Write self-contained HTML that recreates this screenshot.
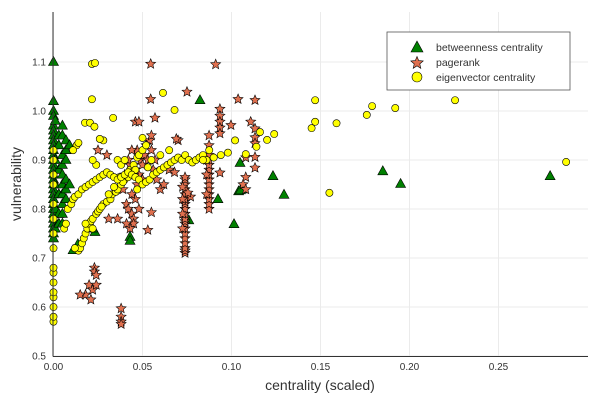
<!DOCTYPE html>
<html><head><meta charset="utf-8"><style>
body{margin:0;background:#fff;}
svg{display:block;font-family:"Liberation Sans",sans-serif;}
</style></head><body>
<svg id="chart" width="600" height="400">
<g id="grid"></g>
<g id="marks"></g>
<g id="axes"></g>
<text x="320" y="390" font-size="14" text-anchor="middle" fill="#333">centrality (scaled)</text>
<text transform="translate(21,184) rotate(-90)" font-size="14" text-anchor="middle" fill="#333">vulnerability</text>
<g>
<rect x="387" y="32" width="183" height="58" fill="#fff" stroke="#555" stroke-width="0.8"/>
<g><polygon points="417,41 423,52 411,52" fill="#008000" stroke="#000" stroke-width="0.6"/><text x="436" y="51" font-size="10.5" fill="#333">betweenness centrality</text></g>
<g><polygon id="lgstar" fill="#e0704f" stroke="#000" stroke-width="0.6"/><text x="436" y="66" font-size="10.5" fill="#333">pagerank</text></g>
<g><circle cx="417" cy="77" r="5" fill="#ffff00" stroke="#000" stroke-width="0.6"/><text x="436" y="81" font-size="10.5" fill="#333">eigenvector centrality</text></g>
</g>
</svg>
<script>
const xTicks=[0,0.05,0.10,0.15,0.20,0.25];
const xTickLabels=["0.00","0.05","0.10","0.15","0.20","0.25"];
const yTicks=[0.5,0.6,0.7,0.8,0.9,1.0,1.1];
const yTickLabels=["0.5","0.6","0.7","0.8","0.9","1.0","1.1"];
const betX=[0,0,0,0,0,0,0,0,0,0,0,0,0,0,0,0,0,0,0,0,0,0,0,0,0,0,0,0,0.001,0.001,0.001,0.001,0.001,0.003,0.003,0.003,0.003,0.003,0.003,0.005,0.005,0.005,0.005,0.005,0.005,0.005,0.005,0.005,0.005,0.007,0.007,0.007,0.007,0.007,0.007,0.009,0.009,0.0823,0.1048,0.1233,0.1295,0.0924,0.1014,0.076,0.1065,0.104,0.185,0.195,0.279,0.105,0.011,0.0137,0.0233,0.022,0.043,0.043];
const betY=[1.1,1.02,1.0,0.99,0.97,0.96,0.95,0.94,0.93,0.92,0.91,0.9,0.89,0.88,0.87,0.86,0.85,0.84,0.83,0.82,0.81,0.8,0.79,0.78,0.77,0.76,0.75,0.74,0.98,0.9,0.85,0.8,0.76,0.95,0.93,0.88,0.83,0.79,0.77,0.97,0.95,0.91,0.89,0.87,0.85,0.83,0.81,0.79,0.77,0.94,0.92,0.9,0.86,0.84,0.82,0.93,0.85,1.022,0.894,0.867,0.829,0.82,0.769,0.777,0.84,0.836,0.877,0.851,0.867,0.838,0.716,0.728,0.753,0.76,0.743,0.735];
const prX=[0.0739,0.0739,0.0739,0.0739,0.0739,0.0739,0.0739,0.0739,0.0739,0.0739,0.0739,0.0739,0.0739,0.0739,0.0739,0.0739,0.0739,0.0739,0.0739,0.0739,0.0725,0.0725,0.0725,0.0725,0.0874,0.0874,0.0874,0.0874,0.0874,0.0874,0.0874,0.0874,0.0874,0.0874,0.0874,0.0874,0.0874,0.0874,0.086,0.086,0.086,
0.041,0.042,0.044,0.045,0.045,0.043,0.046,0.044,0.047,0.048,0.046,0.049,0.05,0.047,0.052,0.054,0.055,0.051,0.053,0.056,0.058,0.06,0.062,0.057,0.055,0.043,0.04,0.042,0.044,0.039,0.036,0.05,0.048,0.041,0.065,0.068,0.07,0.077,0.031,0.03,0.025,
0.0546,0.0911,0.075,0.0546,0.1037,0.1132,0.057,0.046,0.048,0.069,0.0935,0.0935,0.0935,0.0935,0.0935,0.0997,0.1108,0.1132,0.1132,0.1132,0.1132,0.1132,0.108,0.108,0.1065,0.108,0.0935,0.0755,0.055,0.053,
0.02,0.022,0.024,0.018,0.021,0.015,0.023,0.023,0.024,0.038,0.038,0.038,0.038];
const prY=[0.71,0.715,0.72,0.73,0.74,0.75,0.76,0.77,0.775,0.78,0.79,0.8,0.81,0.815,0.82,0.83,0.84,0.85,0.86,0.865,0.76,0.79,0.82,0.845,0.8,0.81,0.82,0.83,0.84,0.85,0.86,0.87,0.88,0.89,0.9,0.91,0.93,0.95,0.83,0.87,0.9,
0.81,0.8,0.79,0.78,0.77,0.76,0.82,0.83,0.85,0.87,0.88,0.9,0.89,0.92,0.93,0.94,0.95,0.91,0.9,0.88,0.86,0.84,0.85,0.9,0.92,0.89,0.87,0.9,0.92,0.84,0.78,0.86,0.8,0.77,0.88,0.875,0.94,0.825,0.78,0.91,0.92,
1.096,1.095,1.039,1.024,1.024,1.022,0.986,0.978,0.978,0.943,1.004,0.99,0.978,0.966,0.954,0.971,0.978,0.964,0.946,0.934,0.906,0.884,0.905,0.865,0.85,0.84,0.874,0.833,0.793,0.757,
0.645,0.635,0.645,0.625,0.615,0.625,0.68,0.672,0.665,0.597,0.58,0.57,0.565];
const eigX=[0.014,0.015,0.016,0.017,0.018,0.019,0.02,0.021,0.022,0.024,0.025,0.026,0.028,0.03,0.032,0.033,0.035,0.036,0.038,0.04,0.041,0.043,0.045,0.047,0.048,0.05,0.052,0.05,0.012,0.018,0.022,0.027,0.031,0.034,0.037,0.039,0.042,0.044,0.046,
0.006,0.007,0.008,0.01,0.011,0.012,0.014,0.016,0.018,0.02,0.022,0.024,0.026,0.028,0.03,0.032,0.034,0.036,0.038,0.04,0.042,0.044,0.046,0.048,0.05,0.052,0.054,0.056,0.058,0.06,0.062,0.064,0.066,0.068,0.07,0.072,0.074,0.076,0.078,0.08,0.082,0.084,0.086,0.09,0.094,0.098,0.055,0.06,0.065,0.053,0.047,0.024,0.022,0.013,0.011,0.014,0.036,0.038,0.04,0.028,
0,0,0,0,0,0,0,0,0,0,0,0,0,0,0,0,
0.0216,0.0233,0.0216,0.0615,0.068,0.2256,0.288,0.179,0.192,0.176,0.159,0.147,0.147,0.145,0.155,0.124,0.12,0.116,0.114,0.102,0.108,0.0335,0.0177,0.0205,0.023,0.026,0.084,0.0875];
const eigY=[0.715,0.72,0.73,0.74,0.75,0.76,0.77,0.775,0.78,0.79,0.795,0.8,0.81,0.815,0.82,0.83,0.835,0.84,0.85,0.86,0.87,0.88,0.89,0.905,0.91,0.92,0.93,0.945,0.72,0.77,0.76,0.805,0.83,0.845,0.865,0.855,0.865,0.875,0.88,
0.76,0.77,0.8,0.81,0.82,0.825,0.83,0.84,0.845,0.85,0.855,0.86,0.865,0.87,0.875,0.87,0.865,0.86,0.865,0.87,0.875,0.87,0.865,0.86,0.85,0.855,0.86,0.87,0.875,0.88,0.885,0.89,0.895,0.9,0.905,0.9,0.91,0.9,0.895,0.9,0.905,0.91,0.9,0.905,0.91,0.915,0.9,0.91,0.92,0.885,0.84,0.89,0.9,0.93,0.92,0.935,0.9,0.89,0.9,0.94,
0.57,0.58,0.6,0.62,0.63,0.65,0.67,0.68,0.72,0.75,0.78,0.81,0.85,0.87,0.9,0.92,
1.096,1.098,1.024,1.037,1.002,1.022,0.896,1.01,1.006,0.992,0.975,1.022,0.978,0.965,0.833,0.953,0.941,0.957,0.927,0.94,0.912,0.986,0.976,0.976,0.968,0.943,0.9,0.92];

const X0=53.5,XS=1780,Y0=356,YS=490;
const sx=v=>X0+v*XS, sy=v=>Y0-(v-0.5)*YS;
const NS="http://www.w3.org/2000/svg";
const grid=document.getElementById('grid'),axes=document.getElementById('axes'),marks=document.getElementById('marks');
function mk(t,a,p){const e=document.createElementNS(NS,t);for(const k in a)e.setAttribute(k,a[k]);p.appendChild(e);return e;}
xTicks.forEach((t,i)=>{
 const g=mk('line',{x1:sx(t),x2:sx(t),y1:12,y2:356,stroke:'#ebebeb','stroke-width':1},grid);
 
 
 const l=mk('text',{x:sx(t),y:370,'font-size':10,'text-anchor':'middle',fill:'#333'},axes);
 l.textContent=xTickLabels[i];
 
 
});
yTicks.forEach((t,i)=>{
 const g=mk('line',{x1:53,x2:588,y1:sy(t),y2:sy(t),stroke:'#ebebeb','stroke-width':1},grid);
 
 
 const l=mk('text',{x:46,y:sy(t)+3.5,'font-size':10,'text-anchor':'end',fill:'#333'},axes);
 l.textContent=yTickLabels[i];
 
 
});
const ax1=mk('line',{x1:53,x2:53,y1:12,y2:356.5,stroke:'#333','stroke-width':1},axes);


const ax2=mk('line',{x1:53,x2:588,y1:356.5,y2:356.5,stroke:'#333','stroke-width':1},axes);


function starPts(cx,cy,R){const r=R*0.45;let p=[];for(let k=0;k<10;k++){const a=-Math.PI/2+k*Math.PI/5;const rr=k%2?r:R;p.push((cx+rr*Math.cos(a)).toFixed(1)+','+(cy+rr*Math.sin(a)).toFixed(1));}return p.join(' ');}
document.getElementById('lgstar').setAttribute('points',starPts(417,63,6.5));
betX.forEach((v,i)=>{
 const x=sx(v),y=sy(betY[i]);
 const e=mk('polygon',{points:`${x},${y-5.5} ${x+5},${y+3.5} ${x-5},${y+3.5}`,fill:'#008000',stroke:'#000','stroke-width':0.6},marks);
 
 
});
prX.forEach((v,i)=>{
 const e=mk('polygon',{points:starPts(sx(v),sy(prY[i]),5.2),fill:'#e0704f',stroke:'#000','stroke-width':0.6},marks);
 
 
});
eigX.forEach((v,i)=>{
 const e=mk('circle',{cx:sx(v),cy:sy(eigY[i]),r:3.6,fill:'#ffff00',stroke:'#000','stroke-width':0.6},marks);
 
 
});
</script>
</body></html>
